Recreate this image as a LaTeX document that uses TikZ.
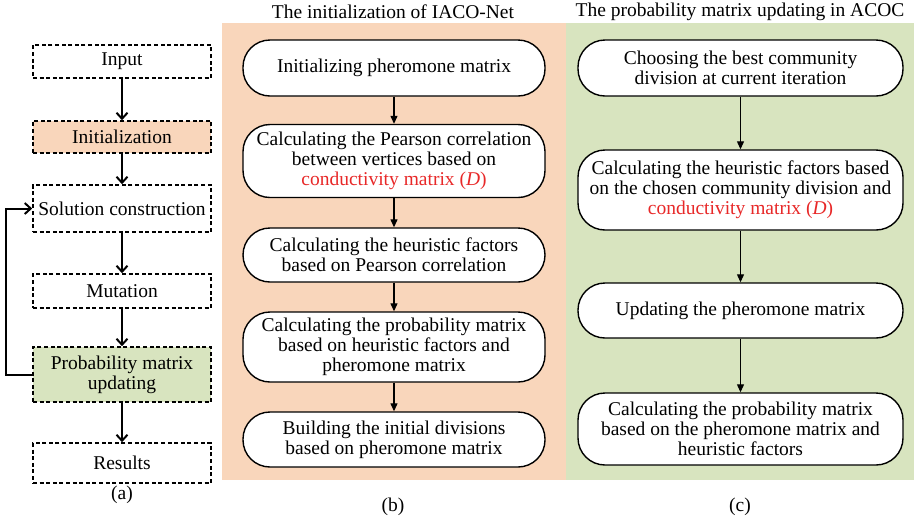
\documentclass[tikz,border=0pt]{standalone}
\usepackage{fontspec}
\setmainfont{Liberation Serif}
\usepackage{tikz}
\usetikzlibrary{arrows.meta}

\definecolor{peach}{RGB}{249,214,187}
\definecolor{sage}{RGB}{216,228,191}
\definecolor{condred}{RGB}{232,40,40}

\newcommand{\condD}{\textcolor{condred}{conductivity matrix (\textit{D})}}

\begin{document}
\begin{tikzpicture}[x=0.5pt, y=-0.5pt, every node/.style={font=\fontsize{9.75}{10}\selectfont},
	stepbox/.style={draw, line width=0.8pt, dash pattern=on 2pt off 1.3pt, minimum width=89pt, inner sep=0pt, align=center},
	flowbox/.style={draw, line width=0.7pt, rounded corners=13.5pt, fill=white, inner sep=0pt, align=center},
	bigarr/.style={line width=1pt, -{Straight Barb[length=3pt,width=5.5pt]}},
	thinarr/.style={line width=0.6pt, -{Triangle[length=4pt,width=3.5pt]}}]
	\useasboundingbox (0,0) rectangle (916,516);
	% backgrounds of (b) and (c)
	\fill[peach] (222,23) rectangle (566,480);
	\fill[sage] (566,23) rectangle (914,480);
	\node (titleb) at (393,12) {The initialization of IACO-Net};
	\node (titlec) at (740,12) {The probability matrix updating in ACOC};
	% (a) overall flow
	\node[stepbox, minimum height=16.5pt] (input) at (122,61.5) {Input};
	\node[stepbox, minimum height=16pt, fill=peach] (init) at (122,137) {Initialization};
	\node[stepbox, minimum height=23.5pt] (sol) at (122,208.5) {Solution construction};
	\node[stepbox, minimum height=17pt] (mut) at (122,291) {Mutation};
	\node[stepbox, minimum height=27.5pt, fill=sage] (prob) at (122,374.5) {Probability matrix\\updating};
	\node[stepbox, minimum height=20pt] (res) at (122,463) {Results};
	\draw[bigarr] (input) -- (init);
	\draw[bigarr] (init) -- (sol);
	\draw[bigarr] (sol) -- (mut);
	\draw[bigarr] (mut) -- (prob);
	\draw[bigarr] (prob) -- (res);
	\draw[bigarr] (prob.west) -- ++(-26,0) |- (sol.west);
	% (b) initialization
	\node[flowbox, minimum width=151pt, minimum height=28pt] (b1) at (394,68) {Initializing pheromone matrix};
	\node[flowbox, minimum width=151pt, minimum height=36.5pt] (b2) at (394,161) {Calculating the Pearson correlation\\between vertices based on\\\condD};
	\node[flowbox, minimum width=151pt, minimum height=27pt] (b3) at (394,255) {Calculating the heuristic factors\\based on Pearson correlation};
	\node[flowbox, minimum width=151pt, minimum height=35pt] (b4) at (394,347) {Calculating the probability matrix\\based on heuristic factors and\\pheromone matrix};
	\node[flowbox, minimum width=151pt, minimum height=27.5pt] (b5) at (394,439.5) {Building the initial divisions\\based on pheromone matrix};
	\foreach \a/\b in {b1/b2,b2/b3,b3/b4,b4/b5} {\draw[thinarr] (\a) -- (\b);}
	% (c) updating
	\node[flowbox, minimum width=162.5pt, minimum height=28pt] (c1) at (740.5,68) {Choosing the best community\\division at current iteration};
	\node[flowbox, minimum width=162.5pt, minimum height=40pt] (c2) at (740.5,190) {Calculating the heuristic factors based\\on the chosen community division and\\\condD};
	\node[flowbox, minimum width=162.5pt, minimum height=27.5pt] (c3) at (740.5,310.5) {Updating the pheromone matrix};
	\node[flowbox, minimum width=162.5pt, minimum height=36pt] (c4) at (740.5,429) {Calculating the probability matrix\\based on the pheromone matrix and\\heuristic factors};
	\foreach \a/\b in {c1/c2,c2/c3,c3/c4} {\draw[thinarr] (\a) -- (\b);}
	% captions
	\node (capa) at (122,495) {(a)};
	\node (capb) at (393,507) {(b)};
	\node (capc) at (740,507) {(c)};
\end{tikzpicture}
\end{document}
